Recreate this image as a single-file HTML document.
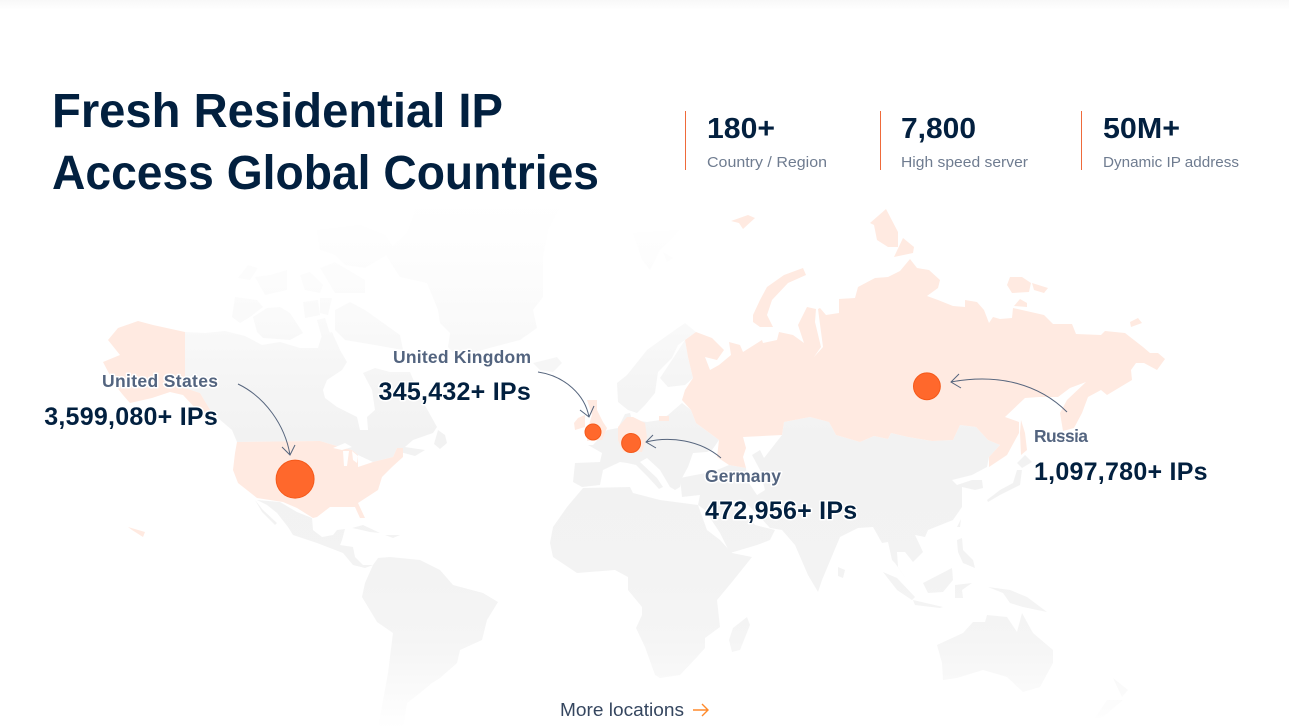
<!DOCTYPE html>
<html lang="en">
<head>
<meta charset="utf-8">
<title>Fresh Residential IP</title>
<style>
html,body{margin:0;padding:0;background:#fff;width:1289px;height:728px;overflow:hidden}
svg{display:block}
text{font-family:"Liberation Sans",sans-serif}
.land{fill:url(#landFade)}
.hi{fill:#ffeae1}
.arrow{fill:none;stroke:#56657d;stroke-width:1}
.country{font-size:17.5px;font-weight:700;fill:#53647f;paint-order:stroke;stroke:#fff;stroke-width:3px;stroke-linejoin:round}
.value{font-size:25px;font-weight:700;fill:#02203f;paint-order:stroke;stroke:#fff;stroke-width:3px;stroke-linejoin:round;letter-spacing:.25px}
.stat{font-size:29px;font-weight:700;fill:#03203f}
.cap{font-size:15px;fill:#6f7c90}
.title{font-size:48px;font-weight:700;fill:#02203f}
</style>
</head>
<body>
<svg id="chart" xmlns="http://www.w3.org/2000/svg" width="1289" height="728" viewBox="0 0 1289 728">
<defs>
<linearGradient id="landFade" gradientUnits="userSpaceOnUse" x1="0" y1="200" x2="0" y2="728">
<stop offset="0" stop-color="#ffffff"/>
<stop offset="0.057" stop-color="#fefefe"/>
<stop offset="0.15" stop-color="#fcfcfc"/>
<stop offset="0.246" stop-color="#f9f9f9"/>
<stop offset="0.34" stop-color="#f5f5f5"/>
<stop offset="0.4545" stop-color="#f2f2f2"/>
<stop offset="0.72" stop-color="#f3f3f3"/>
<stop offset="0.833" stop-color="#f5f5f5"/>
<stop offset="0.928" stop-color="#fafafa"/>
<stop offset="1" stop-color="#ffffff"/>
</linearGradient>
<linearGradient id="topShade" x1="0" y1="0" x2="0" y2="1">
<stop offset="0" stop-color="#f8f8f8"/>
<stop offset="1" stop-color="#ffffff"/>
</linearGradient>
</defs>
<rect x="0" y="0" width="1289" height="10" fill="url(#topShade)"/>

<g>
<polygon class="land" points="185,332 205,333 225,331 245,336 262,345 280,342 300,348 318,348 322,335 332,332 340,350 347,362 342,370 327,380 323,390 325,398 337,407 357,417 360,430 368,430 367,417 375,410 372,390 363,373 375,368 390,372 410,372 422,400 437,427 433,433 413,440 405,447 425,450 415,456 400,452 397,448 393,457 373,462 358,455 352,450 340,447 320,441 237,442 232,430 212,413 200,393 185,388"/>
<polygon class="land" points="438,430 445,435 447,443 440,449 434,444"/>
<polygon class="land" points="232,317 235,297 257,300 263,307 250,317 240,323"/>
<polygon class="land" points="257,332 253,317 267,308 280,307 290,313 303,333 290,340 263,338"/>
<polygon class="land" points="238,278 248,265 258,268 250,280"/>
<polygon class="land" points="255,277 270,275 287,270 287,290 265,295"/>
<polygon class="land" points="300,275 310,272 323,285 320,293 305,290"/>
<polygon class="land" points="320,268 335,262 365,280 365,293 335,293"/>
<polygon class="land" points="317,230 360,225 385,235 395,250 365,268 345,265 335,255 320,250"/>
<polygon class="land" points="335,310 350,302 365,310 400,335 403,350 375,345 345,340 335,330"/>
<polygon class="land" points="317,320 325,318 332,340 322,338"/>
<polygon class="land" points="303,302 318,300 320,315 305,318"/>
<polygon class="land" points="320,298 332,298 328,315 320,313"/>
<polygon class="land" points="385,253 407,233 417,203 563,203 548,230 543,257 543,297 533,310 537,328 520,340 493,347 457,357 448,347 450,333 440,323 438,310 427,283 400,277 392,265"/>
<polygon class="land" points="533,363 557,357 562,363 553,372 540,370"/>
<polygon class="land" points="633,233 680,230 660,250 650,270 642,260"/>
<polygon class="land" points="663,252 673,258 667,262"/>
<polygon class="land" points="617,383 627,375 647,350 665,337 685,323 696,332 685,340 678,345 672,358 658,372 655,393 645,405 637,413 628,410 618,402"/>
<polygon class="land" points="685,340 688,357 693,378 685,385 668,387 660,378 672,360"/>
<polygon class="land" points="588,445 593,445 607,430 618,428 625,414 630,413 632,420 647,422 660,420 668,415 682,403 691,410 696,423 719,440 712,450 707,452 693,453 688,467 682,478 680,487 675,490 670,487 660,470 647,458 640,462 657,478 663,487 659,489 648,477 636,465 627,463 620,462 603,470 600,485 582,487 573,482 575,463 600,462 602,453"/>
<polygon class="land" points="680,478 695,475 712,472 729,465 746,468 747,480 757,495 765,490 760,470 752,455 760,450 764,458 782,435 784,422 810,417 829,422 836,435 860,442 874,436 888,439 891,433 908,437 932,441 953,440 960,425 976,427 988,440 1000,445 989,457 987,467 972,475 952,480 957,485 972,480 982,480 983,488 975,490 962,487 962,507 953,520 928,530 925,537 915,535 923,552 913,562 905,552 897,552 898,567 907,580 895,563 892,560 888,542 882,543 873,527 858,528 840,537 822,580 818,592 808,575 795,545 782,530 770,528 758,515 748,505 740,507 755,525 775,530 770,540 757,545 730,553 720,533 705,510 698,505 700,495 682,497"/>
<polygon class="land" points="583,488 630,487 633,493 660,500 698,505 707,530 720,540 732,553 752,557 732,582 717,600 720,627 705,638 705,648 697,657 680,675 660,678 655,675 645,647 636,628 642,615 642,607 628,590 628,577 615,570 577,573 553,557 550,543 553,527 567,507"/>
<polygon class="land" points="747,617 750,625 740,650 732,652 729,640 733,628"/>
<polygon class="land" points="257,500 280,502 297,512 312,518 313,530 322,537 333,535 337,530 345,529 342,540 340,545 353,547 355,557 363,565 373,565 365,568 353,565 343,553 330,548 317,543 293,535 288,527 277,513 267,505"/>
<polygon class="land" points="255,500 263,510 277,523 275,525 262,512"/>
<polygon class="land" points="352,528 363,525 380,533 370,532 357,529"/>
<polygon class="land" points="385,535 400,535 393,538"/>
<polygon class="land" points="373,565 378,558 390,557 420,560 440,570 453,585 483,593 498,602 487,620 482,640 460,650 457,663 440,678 432,683 420,693 407,703 403,728 378,728 388,673 393,633 377,622 362,597 365,583"/>
<polygon class="land" points="937,645 963,633 973,622 985,622 987,615 1007,617 1017,632 1022,613 1033,633 1053,650 1053,663 1040,687 1023,692 1007,677 983,670 957,678 943,680 942,663"/>
<polygon class="land" points="1113,678 1128,690 1122,697"/>
<polygon class="land" points="1123,700 1103,717 1095,718 1107,700"/>
<polygon class="land" points="988,587 1010,590 1027,597 1047,612 1023,607 1010,603 1003,593"/>
<polygon class="land" points="923,583 952,568 953,580 943,592 928,593"/>
<polygon class="land" points="883,572 897,578 915,597 912,600 897,590"/>
<polygon class="land" points="913,600 943,607 940,608 915,605"/>
<polygon class="land" points="955,585 972,583 962,590 963,598 955,598"/>
<polygon class="land" points="957,540 962,538 963,550 973,560 975,568 963,563 958,552"/>
<polygon class="land" points="957,527 961,519 960,527"/>
<polygon class="land" points="987,500 1000,490 1013,483 1017,470 1022,470 1020,485 1000,495 988,502"/>
<polygon class="land" points="1017,463 1025,455 1032,462 1022,468"/>
<polygon class="land" points="838,567 845,570 843,578 838,576"/>
</g>

<g>
<polygon class="hi" points="237,442 320,441 340,447 352,450 358,455 358,467 373,462 393,457 397,448 403,448 403,457 392,467 382,477 378,490 358,503 365,518 360,518 355,507 330,507 317,517 313,518 297,508 283,502 257,498 238,483 233,470 235,453"/>
<polygon fill="#ffffff" points="343,451 349,451 347,466 344,466"/>
<polygon fill="#ffffff" points="333,448 345,443 352,447 342,450"/>
<polygon fill="#ffffff" points="352,451 358,456 357,463 353,460"/>
<polygon class="hi" points="108,340 118,328 138,321 153,325 185,332 185,388 200,393 212,413 213,428 197,410 183,395 170,392 152,398 130,403 123,395 115,385 103,362 120,355"/>
<polygon class="hi" points="128,527 145,532 143,537 132,530"/>
<polygon class="hi" points="685,340 696,332 712,338 724,350 717,360 705,357 710,370 719,365 731,355 729,342 740,345 743,352 762,340 763,343 777,340 779,332 793,335 804,343 798,325 807,307 816,309 815,322 821,347 814,357 823,347 818,309 820,308 826,315 839,313 839,299 855,298 858,287 875,278 888,277 900,271 910,259 917,268 929,270 940,280 938,288 927,296 938,300 953,306 965,307 965,300 977,302 984,310 989,323 993,317 1000,319 1012,318 1013,308 1044,315 1053,324 1072,324 1076,334 1101,335 1105,331 1125,333 1143,347 1150,353 1158,353 1165,359 1157,370 1144,363 1136,363 1131,370 1132,380 1107,395 1101,390 1088,397 1082,413 1074,428 1063,431 1060,413 1067,400 1086,382 1070,388 1058,397 1039,397 1025,398 1005,417 1019,422 1019,433 1007,455 989,467 989,457 1000,445 988,440 976,427 960,425 953,440 932,441 908,437 891,433 888,439 874,436 860,442 836,435 829,422 810,417 784,422 782,435 743,437 746,448 743,457 746,468 729,465 717,457 719,440 696,423 691,410 682,400 685,390 693,378 688,357"/>
<polygon class="hi" points="1021,420 1025,433 1027,450 1021,455 1020,433"/>
<polygon class="hi" points="753,315 760,300 767,287 784,275 803,268 806,275 788,283 772,300 767,315 773,327 760,327 753,322"/>
<polygon class="hi" points="870,223 886,209 898,232 898,247 888,247 877,240 874,225"/>
<polygon class="hi" points="894,257 903,238 914,247 913,253"/>
<polygon class="hi" points="731,221 748,215 755,218 743,229 739,223"/>
<polygon class="hi" points="1007,285 1010,277 1022,277 1031,283 1029,292 1012,293"/>
<polygon class="hi" points="1032,283 1048,288 1044,293 1034,290"/>
<polygon class="hi" points="1014,306 1020,299 1027,303 1027,307"/>
<polygon class="hi" points="1130,322 1138,318 1142,323 1131,327"/>
<polygon class="hi" points="659,416 669,416 669,421 659,421"/>
<polygon class="hi" points="618,427 627,417 633,417 645,423 647,437 642,452 623,452 618,440"/>
<polygon class="hi" points="587,400 597,400 597,410 603,422 607,428 602,440 587,441 587,431 592,415"/>
<polygon class="hi" points="578,418 585,415 585,427 575,430 574,423"/>
</g>

<g id="bubbles"></g>

<g>
<path class="arrow" d="M238 384C265 397 285 425 290 455M282 447L290 455L295 445"/>
<path class="arrow" d="M538 372C565 376 585 395 589 417M580 410L589 417L594 406"/>
<path class="arrow" d="M721 458C700 440 670 436 646 442M653 435L646 442L656 448"/>
<path class="arrow" d="M1067 412C1040 385 1000 373 951 382M959 374L951 382L961 388"/>
</g>

<g>
<text class="country" x="102" y="387" textLength="116">United States</text>
<text id="value-0" class="value" x="218" y="425" text-anchor="end"></text>
<text class="country" x="393" y="363" textLength="138">United Kingdom</text>
<text id="value-1" class="value" x="531" y="400" text-anchor="end"></text>
<text class="country" x="705" y="482" textLength="76">Germany</text>
<text id="value-2" class="value" x="705" y="519"></text>
<text class="country" x="1034" y="442" textLength="54">Russia</text>
<text id="value-3" class="value" x="1034" y="480"></text>
</g>

<g>
<text class="title" x="52" y="127" textLength="451" lengthAdjust="spacingAndGlyphs">Fresh Residential IP</text>
<text class="title" x="52" y="189" textLength="547" lengthAdjust="spacingAndGlyphs">Access Global Countries</text>
</g>

<g>
<rect x="685" y="111" width="1" height="59" fill="#ef6a3a"/>
<text class="stat" x="707" y="138" textLength="68" lengthAdjust="spacingAndGlyphs">180+</text>
<text class="cap" x="707" y="167" textLength="120" lengthAdjust="spacingAndGlyphs">Country / Region</text>
<rect x="880" y="111" width="1" height="59" fill="#ef6a3a"/>
<text class="stat" x="901" y="138" textLength="75" lengthAdjust="spacingAndGlyphs">7,800</text>
<text class="cap" x="901" y="167" textLength="127" lengthAdjust="spacingAndGlyphs">High speed server</text>
<rect x="1081" y="111" width="1" height="59" fill="#ef6a3a"/>
<text class="stat" x="1103" y="138" textLength="77" lengthAdjust="spacingAndGlyphs">50M+</text>
<text class="cap" x="1103" y="167" textLength="136" lengthAdjust="spacingAndGlyphs">Dynamic IP address</text>
</g>

<g style="cursor:pointer">
<text x="560" y="716" font-size="18" fill="#35465f" textLength="124" lengthAdjust="spacingAndGlyphs">More locations</text>
<path d="M693 710H708M702 704L708 710L702 716" fill="none" stroke="#ff8a2b" stroke-width="1.4"/>
</g>
</svg>

<script>
// Chart data
const countries = ["United States", "United Kingdom", "Germany", "Russia"];
const ipCounts = [3599080, 345432, 472956, 1097780];
const longitudes = [-100.3, -1, 11.7, 110.3];
const latitudes = [36, 49, 46.1, 60];

// Axis functions: Miller-style map projection and log radius scale
function xScale(lon) {
  return 596 + 3 * lon;
}
function yScale(lat) {
  const rad = lat * Math.PI / 180;
  const miller = 1.25 * Math.log(Math.tan(Math.PI / 4 + 0.4 * rad));
  return 592 - 3 * miller * 180 / Math.PI;
}
function rScale(v) {
  return Math.max(2, 8 + 4.68 * Math.log(v / 345432));
}

const NS = "http://www.w3.org/2000/svg";
const layer = document.getElementById("bubbles");
countries.forEach(function (name, i) {
  const c = document.createElementNS(NS, "circle");
  c.setAttribute("cx", xScale(longitudes[i]));
  c.setAttribute("cy", yScale(latitudes[i]));
  c.setAttribute("r", rScale(ipCounts[i]));
  c.setAttribute("fill", "#ff682c");
  c.setAttribute("stroke", "#f4591a");
  c.setAttribute("stroke-width", "1");
  
  
  layer.appendChild(c);
  document.getElementById("value-" + i).textContent = ipCounts[i].toLocaleString("en-US") + "+ IPs";
});
</script>
</body>
</html>
